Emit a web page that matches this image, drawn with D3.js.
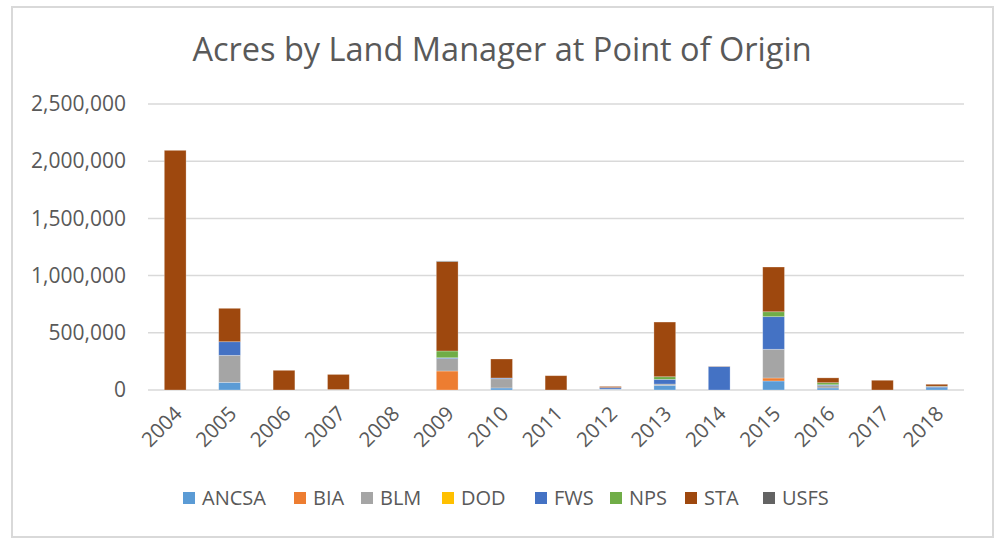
<!DOCTYPE html>
<html>
<head>
<meta charset="utf-8">
<script src="https://cdn.jsdelivr.net/npm/d3@7"></script>
<style>
  body { margin: 0; background: #fff; }
  text { font-family: "Open Sans", sans-serif; fill: #595959; }
</style>
</head>
<body>
<div id="chart"></div>
<script>
// years on the x axis
var years = ["2004","2005","2006","2007","2008","2009","2010","2011","2012","2013","2014","2015","2016","2017","2018"];
var managers = ["ANCSA","BIA","BLM","DOD","FWS","NPS","STA","USFS"];
var colors = ["#5b9bd5","#ed7d31","#a5a5a5","#ffc000","#4472c4","#70ad47","#9e480e","#636363"];
var yTicks = [0, 500000, 1000000, 1500000, 2000000, 2500000];

// acres per manager, one value per year
var ancsa = [0, 67000, 0, 0, 0, 0, 18000, 0, 6000, 41000, 0, 79000, 18000, 0, 20000];
var bia   = [0, 0, 0, 0, 0, 166000, 0, 0, 0, 0, 0, 26000, 0, 0, 0];
var blm   = [0, 236000, 0, 4000, 0, 108000, 80000, 0, 3000, 11000, 0, 251000, 20000, 0, 0];
var dod   = [0, 0, 0, 0, 0, 0, 0, 0, 0, 0, 0, 0, 0, 0, 0];
var fws   = [0, 119000, 0, 0, 0, 8000, 7000, 0, 12000, 41000, 205000, 285000, 8000, 0, 10000];
var nps   = [0, 0, 0, 0, 0, 59000, 0, 0, 0, 23000, 0, 43000, 18000, 0, 3000];
var sta   = [2095000, 292000, 172000, 132000, 0, 781000, 166000, 125000, 10000, 478000, 2000, 391000, 42000, 85000, 17000];
var usfs  = [0, 0, 0, 0, 0, 6000, 0, 0, 0, 0, 0, 0, 0, 0, 0];

var seriesVals = [ancsa, bia, blm, dod, fws, nps, sta, usfs];

var W = 1003, H = 540;
var plotL = 148, plotR = 964, plotT = 104, plotB = 390;

var svg = d3.select("#chart").append("svg")
  .attr("width", W).attr("height", H);

// outer frame
svg.append("rect").attr("x", 12).attr("y", 7).attr("width", 981).attr("height", 530)
  .attr("fill", "#fff").attr("stroke", "#d9d9d9").attr("stroke-width", 2);

svg.append("text").attr("x", 502).attr("y", 61).attr("text-anchor", "middle")
  .style("font-size", "32.5px").text("Acres by Land Manager at Point of Origin");

var rows = years.map(function(yr, i){
  var r = {year: yr};
  managers.forEach(function(m, j){ r[m] = seriesVals[j][i]; });
  return r;
});

var x = d3.scaleBand().domain(years).range([plotL, plotR]).paddingInner(0.6).paddingOuter(0.3);
var y = d3.scaleLinear().domain([0, 2500000]).range([plotB, plotT]);

// gridlines
svg.append("g").selectAll("line").data(yTicks).enter().append("line")
  .attr("x1", plotL).attr("x2", plotR)
  .attr("y1", function(d){ return y(d); }).attr("y2", function(d){ return y(d); })
  .attr("stroke", "#d9d9d9").attr("stroke-width", 1.5);

var yAxis = svg.append("g").attr("transform", "translate(" + (plotL - 22) + ",0)")
  .call(d3.axisLeft(y).tickValues(yTicks).tickSize(0).tickPadding(0).tickFormat(d3.format(",")));
yAxis.select(".domain").remove();
yAxis.selectAll("text").style("font-size", "21px").attr("fill", "#595959");

var stack = d3.stack().keys(managers);
var layers = stack(rows);

svg.append("g").selectAll("g").data(layers).enter().append("g")
  .attr("fill", function(d, i){ return colors[i]; })
  .selectAll("rect").data(function(d){ return d; }).enter().append("rect")
  .attr("x", function(d){ return x(d.data.year); })
  .attr("width", x.bandwidth())
  .attr("y", function(d){ return y(d[1]); })
  .attr("height", function(d){ return y(d[0]) - y(d[1]); })
  .attr("stroke", "#fff").attr("stroke-opacity", 0.35).attr("stroke-width", function(d){ return d[1] > d[0] ? 0.75 : 0; });

// x axis labels rotated
var xAxis = svg.append("g").attr("transform", "translate(0," + plotB + ")")
  .call(d3.axisBottom(x).tickSize(0).tickPadding(0));
xAxis.select(".domain").remove();
xAxis.selectAll("text")
  .style("font-size", "20.5px").attr("fill", "#595959")
  .attr("text-anchor", "end").attr("dy", "0.35em")
  .attr("transform", "translate(3,20) rotate(-45)");

// legend
var legendX = [183, 294, 361, 442, 535, 610, 685, 763];
var legend = svg.append("g").selectAll("g").data(managers).enter().append("g")
  .attr("transform", function(d, i){ return "translate(" + legendX[i] + ",498)"; });
legend.append("rect").attr("x", 0).attr("y", -6).attr("width", 12).attr("height", 12)
  .attr("fill", function(d, i){ return colors[i]; });
legend.append("text").attr("x", 19).attr("y", 0).attr("dy", "0.35em")
  .style("font-size", "20px").text(function(d){ return d; });
</script>
</body>
</html>
